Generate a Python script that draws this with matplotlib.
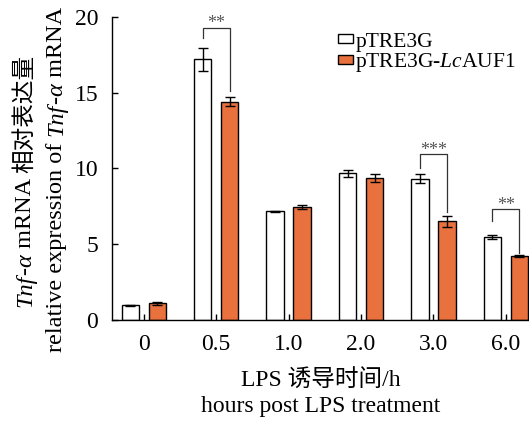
import matplotlib
matplotlib.use('Agg')
import matplotlib.pyplot as plt
import numpy as np

plt.rcParams['font.family'] = ['Liberation Serif', 'Noto Sans CJK SC']
plt.rcParams['mathtext.fontset'] = 'custom'
plt.rcParams['mathtext.rm'] = 'Liberation Serif'
plt.rcParams['mathtext.it'] = 'Liberation Serif:italic'

# data
groups = ['0', '0.5', '1.0', '2.0', '3.0', '6.0']
ctrl = [0.97, 17.2, 7.17, 9.68, 9.33, 5.48]
ctrl_err = [0.05, 0.76, 0.04, 0.24, 0.32, 0.14]
auf1 = [1.10, 14.41, 7.44, 9.39, 6.51, 4.24]
auf1_err = [0.08, 0.29, 0.12, 0.25, 0.37, 0.06]

# significance brackets
sig_groups = [1, 4, 5]
sig_top = [19.3, 10.93, 7.3]
sig_left = [18.6, 10.0, 6.55]
sig_right = [15.1, 7.15, 4.4]
sig_label = ['**', '***', '**']

orange = '#E9713D'
fs = 17
W, H = 529, 424

fig = plt.figure(figsize=(W / 100, H / 100), dpi=100)
ax = fig.add_axes([0.2117, 0.2453, 0.7883, 0.7146])

x = np.arange(len(groups))
off = 0.186
w = 0.24
ekw = dict(elinewidth=1.0, capthick=1.0, ecolor='black')
ax.bar(x - off, ctrl, w, color='white', edgecolor='black', linewidth=1.0,
       yerr=ctrl_err, capsize=3.5, error_kw=ekw, label='pTRE3G')
ax.bar(x + off, auf1, w, color=orange, edgecolor='black', linewidth=1.0,
       yerr=auf1_err, capsize=3.5, error_kw=ekw, label=r'pTRE3G-$\mathit{Lc}$AUF1')

for g, top, yl, yr, lab in zip(sig_groups, sig_top, sig_left, sig_right, sig_label):
    ax.plot([g - off, g - off, g + off, g + off], [yl, top, top, yr],
            color='#333333', linewidth=0.9, clip_on=False)
    ax.text(g, top - 0.05, lab, ha='center', va='baseline', fontsize=13,
            color='#555555')

ax.set_xlim(-0.44, 5.32)
ax.set_ylim(0, 20)
ax.set_yticks([0, 5, 10, 15, 20])
ax.set_xticks(x)
ax.set_xticklabels(groups)
ax.tick_params(axis='both', direction='in', length=4, width=1.0, labelsize=fs)
ax.tick_params(axis='y', pad=10)
ax.tick_params(axis='x', pad=10)
for s in ['top', 'right']:
    ax.spines[s].set_visible(False)
for s in ['left', 'bottom']:
    ax.spines[s].set_linewidth(1.0)

ax.legend(loc='upper left', bbox_to_anchor=(338 / W, 1 - 32.5 / H), bbox_transform=fig.transFigure,
          frameon=False, fontsize=15.5, handlelength=0.7, handleheight=0.3,
          handletextpad=0.1, labelspacing=0.0, borderaxespad=0, borderpad=0)

# x label, two lines
xc = 320.5 / W
fig.text(xc, 1 - 387 / H, 'LPS 诱导时间/h', ha='center', va='baseline', fontsize=fs)
fig.text(xc, 1 - 412 / H, 'hours post LPS treatment', ha='center', va='baseline', fontsize=fs)

# y label: pieces stacked bottom-up along a rotated baseline (mixes italic and CJK)
renderer = fig.canvas.get_renderer()


def rotated_line(xb, ybottom, pieces):
    y = ybottom
    for txt, size, style in pieces:
        t = fig.text(xb / W, y / H, txt, fontsize=size, fontstyle=style,
                     rotation=90, rotation_mode='anchor', ha='left', va='baseline')
        y = t.get_window_extent(renderer).y1


rotated_line(31, H - 307, [('Tnf', 17.5, 'italic'), ('-', 17.5, 'normal'),
                           ('α', 17.5, 'italic'), (' mRNA ', 17.5, 'normal'),
                           ('相对表达量', 17, 'normal')])
rotated_line(62, H - 352, [('relative expression of ', 17.5, 'normal'), ('Tnf', 17.5, 'italic'),
                           ('-', 17.5, 'normal'), ('α', 17.5, 'italic'),
                           (' mRNA', 17.5, 'normal')])

fig.savefig('out.png', dpi=100)
